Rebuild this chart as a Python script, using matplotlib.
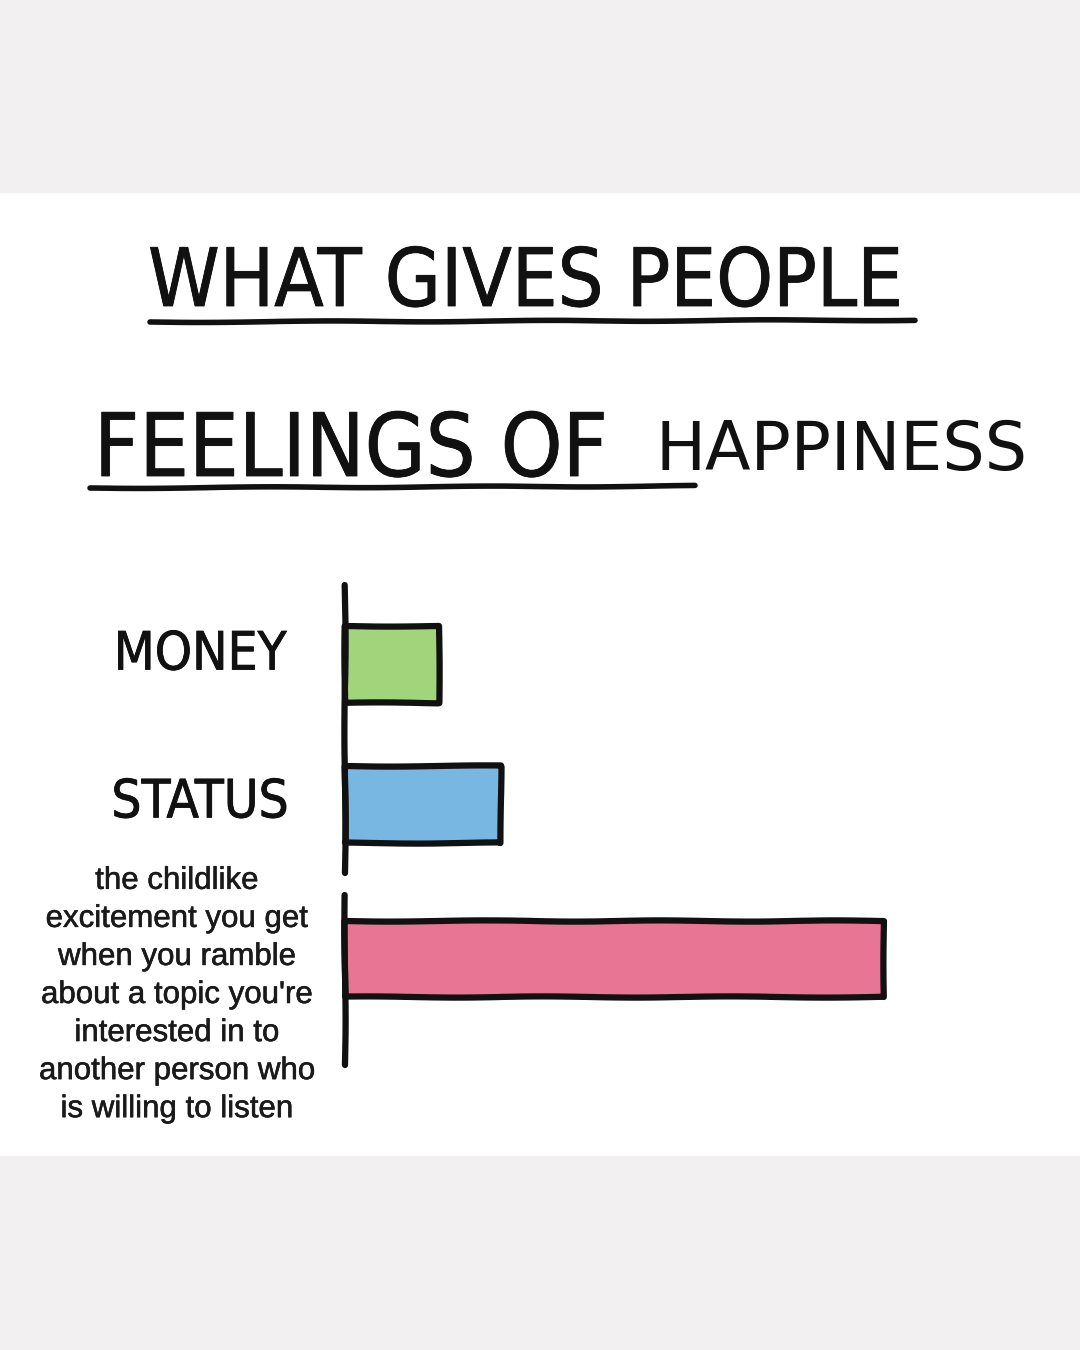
import matplotlib
matplotlib.use("Agg")
import matplotlib.pyplot as plt
import matplotlib.patheffects as pe
from matplotlib.patches import Rectangle
from matplotlib.lines import Line2D

# chart data
categories = ["MONEY", "STATUS",
              "the childlike\nexcitement you get\nwhen you ramble\nabout a topic you're\n"
              "interested in to\nanother person who\nis willing to listen"]
values = [1.75, 2.9, 10.0]
colours = ["#a2d47c", "#79b7e3", "#e87594"]
title_lines = ["WHAT GIVES PEOPLE", "FEELINGS OF"]
title_tail = "HAPPINESS"

W, H = 1080, 1350
# marker-pen look for the hand lettered text
HAND = dict(family="DejaVu Sans", fontstretch="condensed", color="#111111",
            path_effects=[pe.withStroke(linewidth=0.6, foreground="#111111")])


def fx(px):
    return px / W


def fy(py):
    return 1 - py / H


fig = plt.figure(figsize=(10.8, 13.5), dpi=100, facecolor="#f2f0f0")

# white card between the grey bands
fig.patches.append(Rectangle((0, fy(1156)), 1, fy(193) - fy(1156),
                             transform=fig.transFigure, facecolor="white",
                             edgecolor="none", zorder=-5))

# title
fig.text(fx(148), fy(306), title_lines[0], fontsize=58, va="baseline", **HAND)
fig.text(fx(94), fy(476), title_lines[1], fontsize=63, va="baseline", **HAND)
fig.text(fx(655), fy(470), title_tail, fontsize=48, va="baseline",
         family="DejaVu Sans", color="#111111")

# underlines
for (x0, y0, x1, y1) in [(150, 322, 915, 320), (90, 488, 695, 486)]:
    ln = Line2D([fx(x0), fx(x1)], [fy(y0), fy(y1)], transform=fig.transFigure,
                color="#111111", lw=4, solid_capstyle="round")
    ln.set_sketch_params(scale=0.6, length=250, randomness=2)
    fig.lines.append(ln)

# bar chart
ax = fig.add_axes([fx(345), fy(1065), fx(1000) - fx(345), fy(585) - fy(1065)])
ax.set_facecolor("none")
ax.set_zorder(2)
slots = [0, 0.95, 2]
bars = ax.barh(slots, values, height=0.52, color=colours, edgecolor="#111111",
               linewidth=4.5, zorder=2, clip_on=False)
for b in bars:
    b.set_joinstyle("round")
    b.set_sketch_params(scale=0.6, length=200, randomness=2)

ax.set_xlim(0, 12.15)
ax.set_ylim(2.72, -0.54)
for s in ax.spines.values():
    s.set_visible(False)
ax.set_xticks([])
ax.set_yticks([])

# hand drawn y axis, broken near the bottom bar
for lo, hi in [(0.40, 1.0), (0.0, 0.355)]:
    v = ax.axvline(0, ymin=lo, ymax=hi, color="#111111", lw=4.5,
                   solid_capstyle="round", zorder=3, clip_on=False)
    v.set_sketch_params(scale=0.6, length=200, randomness=2)

# category labels
ax.annotate(categories[0], xy=(0, slots[0]), xytext=(-145, 10), textcoords="offset pixels",
            ha="center", va="center", fontsize=38, annotation_clip=False, **HAND)
ax.annotate(categories[1], xy=(0, slots[1]), xytext=(-145, 2), textcoords="offset pixels",
            ha="center", va="center", fontsize=38, annotation_clip=False, **HAND)
ax.annotate(categories[2], xy=(0, slots[2]), xytext=(-168, -36), textcoords="offset pixels",
            ha="center", va="center", fontsize=22.5, linespacing=1.35,
            annotation_clip=False, family="Liberation Sans", color="#1a1a1a",
            path_effects=[pe.withStroke(linewidth=0.4, foreground="#1a1a1a")])

fig.savefig("out.png", dpi=100, facecolor=fig.get_facecolor())
